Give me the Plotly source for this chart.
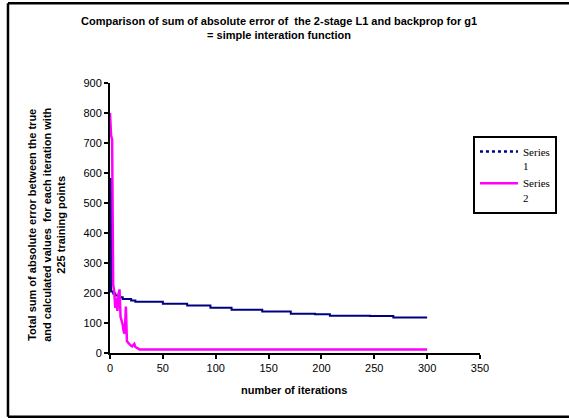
import plotly.graph_objects as go

# Series 1: 2-stage L1 (step changes at these iterations)
s1_iter = [0, 1, 3, 5, 8, 12, 20, 24, 50, 73, 95, 115, 144, 171, 194, 208, 246, 268, 300]
s1_err = [580, 205, 198, 192, 186, 180, 175, 171, 164, 158, 151, 144, 138, 131, 129, 124, 123, 118, 118]

# Series 2: backprop
s2_iter = [0, 1, 2, 3, 4, 5, 6, 7, 8, 9, 10, 11, 12, 13, 14, 15, 16, 17, 18, 19, 20,
           21, 22, 23, 24, 25, 26, 27, 28, 300]
s2_err = [800, 725, 712, 228, 205, 150, 185, 140, 195, 212, 120, 108, 95, 70, 65, 155, 40,
          35, 30, 26, 24, 22, 25, 30, 20, 18, 15, 13, 12, 12]

x_ticks = [0, 50, 100, 150, 200, 250, 300, 350]
y_ticks = [0, 100, 200, 300, 400, 500, 600, 700, 800, 900]

NAVY = "#000080"
MAGENTA = "#FF00FF"
SANS = "Liberation Sans, Arial, sans-serif"
SERIF = "Liberation Serif, Times New Roman, serif"

fig = go.Figure()
fig.add_trace(go.Scatter(x=s1_iter, y=s1_err, mode="lines", line=dict(color=NAVY, width=2, shape="hv"),
                         showlegend=False, hoverinfo="x+y"))
fig.add_trace(go.Scatter(x=s2_iter, y=s2_err, mode="lines", line=dict(color=MAGENTA, width=2.5),
                         showlegend=False, hoverinfo="x+y"))
# legend entries
fig.add_trace(go.Scatter(x=[None], y=[None], mode="lines", name="Series<br>1",
                         line=dict(color=NAVY, width=2.5, dash="dot")))
fig.add_trace(go.Scatter(x=[None], y=[None], mode="lines", name="Series<br>2",
                         line=dict(color=MAGENTA, width=2.5)))

# chart-area frame (left, top and bottom edges)
fx0, fx1, fy0, fy1 = -0.2757, 1.2405, -0.2359, 1.295
frame = dict(type="line", xref="paper", yref="paper", line=dict(color="black", width=2.5), layer="below")

fig.update_layout(
    width=569, height=418,
    margin=dict(l=110, r=89, t=83, b=65, autoexpand=False),
    paper_bgcolor="white", plot_bgcolor="white",
    font=dict(family=SANS, size=11, color="black"),
    showlegend=True,
    legend=dict(x=0.981, y=0.804, xanchor="left", yanchor="top",
                bgcolor="white", bordercolor="black", borderwidth=2,
                font=dict(family=SERIF, size=11, color="black"),
                itemwidth=38, valign="top", tracegroupgap=0),
    xaxis=dict(range=[0, 350], tickvals=x_ticks, ticktext=[str(v) for v in x_ticks],
               showgrid=False, zeroline=False, showline=True, linecolor="black", linewidth=2,
               ticks="outside", ticklen=4, tickwidth=1.5, tickcolor="black",
               tickfont=dict(family=SANS, size=11, color="black")),
    yaxis=dict(range=[0, 900], tickvals=y_ticks, ticktext=[str(v) for v in y_ticks],
               showgrid=False, zeroline=False, showline=True, linecolor="black", linewidth=2,
               ticks="outside", ticklen=4, tickwidth=1.5, tickcolor="black",
               tickfont=dict(family=SANS, size=11, color="black")),
    annotations=[
        dict(text="<b>Comparison of sum of absolute error of  the 2-stage L1 and backprop for g1<br>= simple interation function</b>",
             xref="paper", yref="paper", x=0.457, y=1.202, showarrow=False,
             xanchor="center", yanchor="middle", align="center",
             font=dict(family=SANS, size=11, color="black")),
        dict(text="<b>number of iterations</b>", xref="paper", yref="paper", x=0.497, y=-0.137,
             showarrow=False, xanchor="center", yanchor="middle",
             font=dict(family=SANS, size=11, color="black")),
        dict(text="<b>Total sum of absolute error between the true<br>and calculated values  for each iteration with<br>225 training points</b>",
             xref="paper", yref="paper", x=-0.170, y=0.475, showarrow=False, textangle=-90,
             xanchor="center", yanchor="middle",
             font=dict(family=SANS, size=11, color="black")),
    ],
    shapes=[
        dict(frame, x0=fx0, x1=fx0, y0=fy0, y1=fy1),
        dict(frame, x0=fx0, x1=fx1, y0=fy1, y1=fy1),
        dict(frame, x0=fx0, x1=fx1, y0=fy0, y1=fy0),
    ],
)

fig.write_html("out.html")
